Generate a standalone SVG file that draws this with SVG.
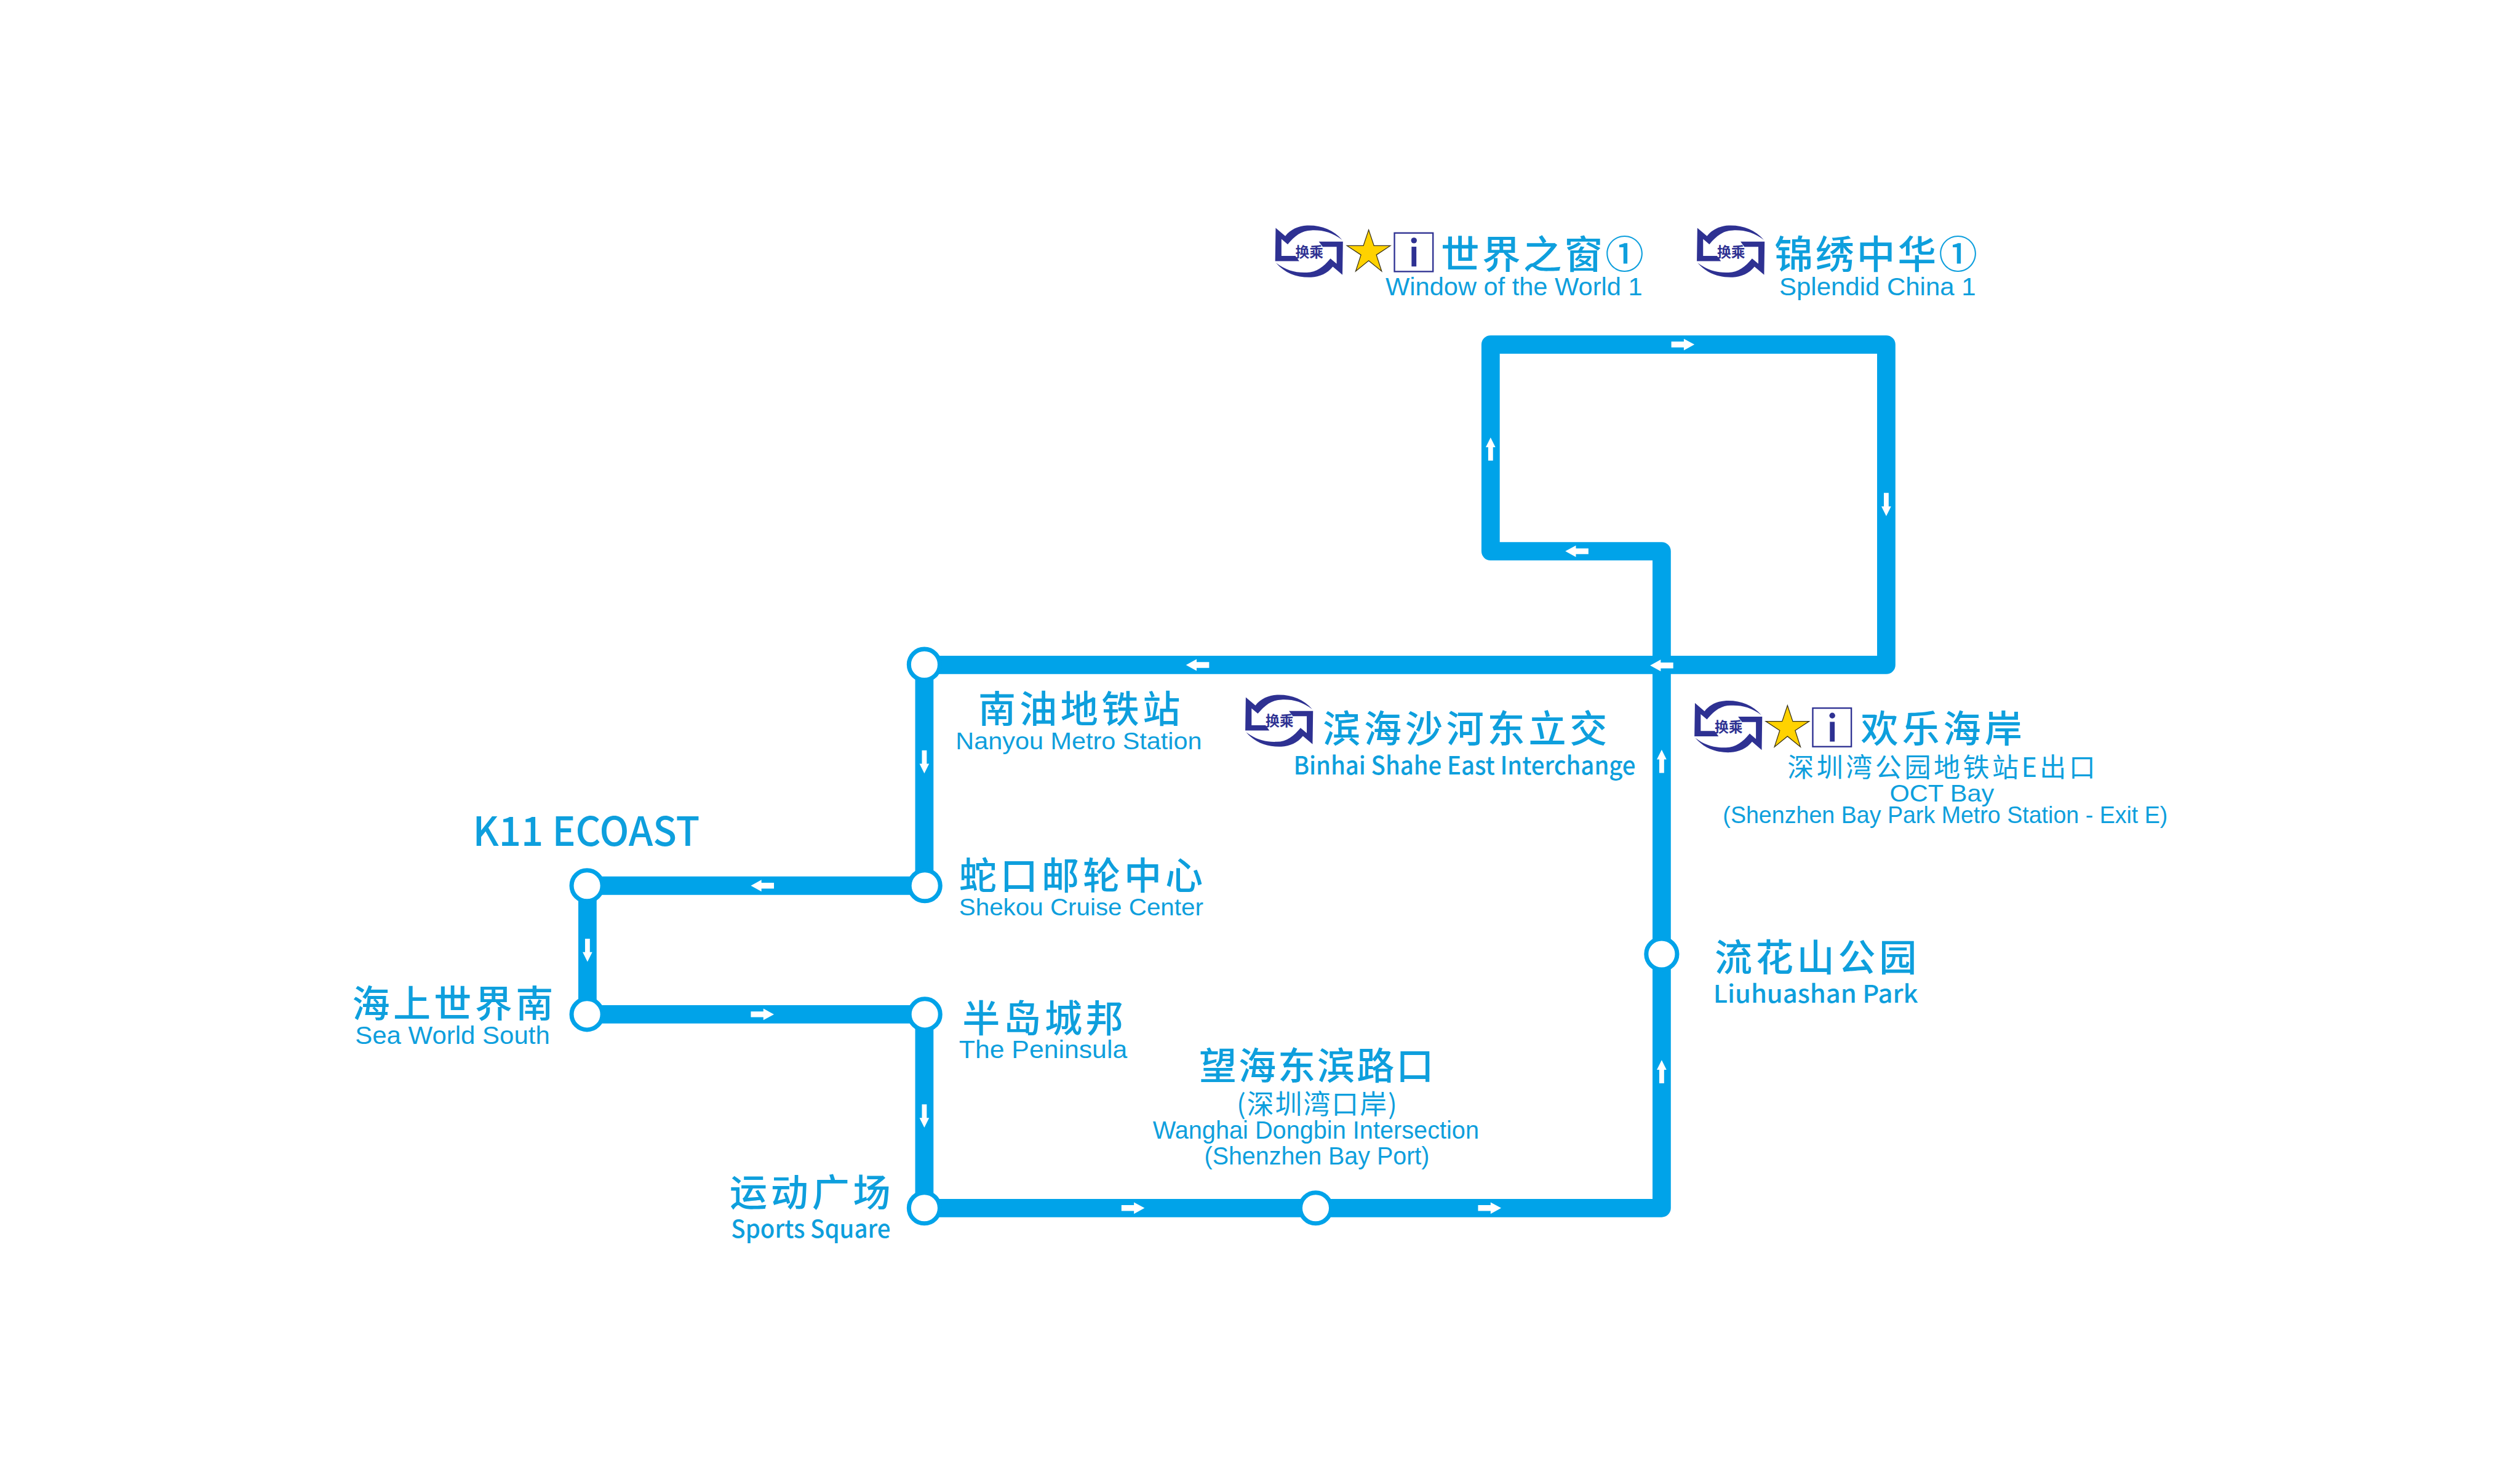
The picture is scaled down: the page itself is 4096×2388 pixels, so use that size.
<svg xmlns="http://www.w3.org/2000/svg" xmlns:xlink="http://www.w3.org/1999/xlink" width="4096" height="2388" viewBox="0 0 4096 2388">
<style>
text{fill:#0e9fdd}
.zh{font-family:"Noto Sans CJK SC","Noto Sans",sans-serif;font-weight:500;font-size:78px}
.zs{font-family:"Noto Sans CJK SC","Noto Sans",sans-serif;font-size:55px}
.en{font-family:"Liberation Sans",Arial,sans-serif;font-size:52px}
.no{font-family:"Noto Sans CJK SC","Noto Sans",sans-serif;font-weight:500;font-size:51px}
.line{fill:none;stroke:#00a3e9;stroke-width:38;stroke-linejoin:round}
.stn{fill:#fff;stroke:#00a3e9;stroke-width:9}
.arr{fill:#fff}
.nv{fill:#2e3192}
.hc{font-family:"Noto Sans CJK SC",sans-serif;font-weight:700;font-size:29px;fill:#2e3192;text-anchor:middle}
.star{fill:#ffd200;stroke:#3a3216;stroke-width:1.6}
.box{fill:#fff;stroke:#2e3192;stroke-width:3}
</style>
<defs>
<polygon id="a" class="arr" points="-24,-6 2,-6 2,-12 24,0 2,12 2,6 -24,6"/>
<polygon id="av" class="arr" points="-24,-5 4,-5 4,-10 24,0 4,10 4,5 -24,5"/>
<path id="half" class="nv" d="M1,5 L21,22 C32,8 48,1 66,0 C95,-1 120,8 139,30 C118,14 98,9 75,10 C55,10 40,22 26,39 L13,28 L13,63 L42,63 L50,74 L0,74 Z"/>
<g id="hub">
<use xlink:href="#half"/>
<use xlink:href="#half" transform="rotate(180 70.3 53.7)"/>
<text class="hc" x="71" y="65">换乘</text>
</g>
<g id="star"><polygon class="star" points="45,0 56,33 90,33 61,52 72,86 45,64 18,86 29,52 0,33 34,33"/></g>
<g id="info">
<rect class="box" x="1.5" y="1.5" width="80" height="80"/>
<circle class="nv" cx="42" cy="17" r="6"/>
<rect class="nv" x="37" y="30" width="10" height="41"/>
</g>
</defs>
<rect width="4096" height="2388" fill="#fff"/>
<g transform="scale(0.78332)">
<g id="connectors">
<path class="line" d="M1918,2507 H3448 V1144 H3093 V715 H3914 V1380 H1918 V1838 H1219 V2105 H1918 Z"/>
<use xlink:href="#a" transform="translate(3492,715)"/>
<use xlink:href="#av" transform="translate(3093,932) rotate(-90)"/>
<use xlink:href="#av" transform="translate(3914,1047) rotate(90)"/>
<use xlink:href="#a" transform="translate(3272,1144) rotate(180)"/>
<use xlink:href="#a" transform="translate(3448,1381) rotate(180)"/>
<use xlink:href="#a" transform="translate(2485,1380) rotate(180)"/>
<use xlink:href="#av" transform="translate(1918,1581) rotate(90)"/>
<use xlink:href="#a" transform="translate(1582,1838) rotate(180)"/>
<use xlink:href="#av" transform="translate(1219,1972) rotate(90)"/>
<use xlink:href="#a" transform="translate(1582,2105)"/>
<use xlink:href="#av" transform="translate(1918,2316) rotate(90)"/>
<use xlink:href="#a" transform="translate(2351,2507)"/>
<use xlink:href="#a" transform="translate(3091,2507)"/>
<use xlink:href="#av" transform="translate(3448,2224) rotate(-90)"/>
<use xlink:href="#av" transform="translate(3448,1580) rotate(-90)"/>
</g>
<g id="node-window-of-the-world">
<use xlink:href="#hub" transform="translate(2646,468)"/>
<use xlink:href="#star" transform="translate(2795,477)"/>
<use xlink:href="#info" transform="translate(2892,482)"/>
<text class="zh" style="font-size:80px" x="2990" y="557" textLength="421">世界之窗①</text>
<text class="en" x="2875" y="613" textLength="533" lengthAdjust="spacingAndGlyphs">Window of the World 1</text>
</g>
<g id="node-splendid-china">
<use xlink:href="#hub" transform="translate(3521,468)"/>
<text class="zh" style="font-size:80px" x="3682" y="557" textLength="421">锦绣中华①</text>
<text class="en" x="3692" y="613" textLength="408" lengthAdjust="spacingAndGlyphs">Splendid China 1</text>
</g>
<g id="node-binhai-shahe">
<use xlink:href="#hub" transform="translate(2584,1442)"/>
<text class="zh" x="2745" y="1541" textLength="590">滨海沙河东立交</text>
<text class="no" style="font-size:52px" x="2684" y="1607" textLength="710" lengthAdjust="spacingAndGlyphs">Binhai Shahe East Interchange</text>
</g>
<g id="node-oct-bay">
<use xlink:href="#hub" transform="translate(3516,1454)"/>
<use xlink:href="#star" transform="translate(3664,1464)"/>
<use xlink:href="#info" transform="translate(3760,1468)"/>
<text class="zh" x="3861" y="1541" textLength="335">欢乐海岸</text>
<text class="zs" x="3709" y="1613" textLength="639">深圳湾公园地铁站E出口</text>
<text class="en" style="font-size:50px" x="3921" y="1663" textLength="217" lengthAdjust="spacingAndGlyphs">OCT Bay</text>
<text class="en" style="font-size:50px" x="3575" y="1708" textLength="923" lengthAdjust="spacingAndGlyphs">(Shenzhen Bay Park Metro Station - Exit E)</text>
</g>
<g id="node-nanyou">
<circle class="stn" cx="1918" cy="1379" r="32"/>
<text class="zh" x="2030" y="1500" textLength="419">南油地铁站</text>
<text class="en" style="font-size:49px" x="1983" y="1555" textLength="511" lengthAdjust="spacingAndGlyphs">Nanyou Metro Station</text>
</g>
<g id="node-shekou">
<circle class="stn" cx="1919" cy="1838" r="32"/>
<text class="zh" x="1990" y="1846" textLength="506">蛇口邮轮中心</text>
<text class="en" style="font-size:49px" x="1990" y="1900" textLength="507" lengthAdjust="spacingAndGlyphs">Shekou Cruise Center</text>
</g>
<g id="node-k11">
<circle class="stn" cx="1218" cy="1838" r="32"/>
<text class="no" style="font-size:84px" x="981" y="1755" textLength="471" lengthAdjust="spacingAndGlyphs">K11 ECOAST</text>
</g>
<g id="node-sea-world-south">
<circle class="stn" cx="1218" cy="2105" r="32"/>
<text class="zh" x="731" y="2112" textLength="417">海上世界南</text>
<text class="en" x="737" y="2167" textLength="404" lengthAdjust="spacingAndGlyphs">Sea World South</text>
</g>
<g id="node-peninsula">
<circle class="stn" cx="1919" cy="2105" r="32"/>
<text class="zh" x="1997" y="2142" textLength="334">半岛城邦</text>
<text class="en" x="1990" y="2196" textLength="349" lengthAdjust="spacingAndGlyphs">The Peninsula</text>
</g>
<g id="node-sports-square">
<circle class="stn" cx="1918" cy="2507" r="32"/>
<text class="zh" x="1514" y="2504" textLength="334">运动广场</text>
<text class="no" x="1517" y="2569" textLength="331" lengthAdjust="spacingAndGlyphs">Sports Square</text>
</g>
<g id="node-wanghai">
<circle class="stn" cx="2730" cy="2507" r="32"/>
<text class="zh" x="2488" y="2240" textLength="487">望海东滨路口</text>
<text class="zs" style="font-size:56px" x="2566" y="2312" textLength="333">(深圳湾口岸)</text>
<text class="en" x="2392" y="2363" textLength="677" lengthAdjust="spacingAndGlyphs">Wanghai Dongbin Intersection</text>
<text class="en" x="2499" y="2417" textLength="467" lengthAdjust="spacingAndGlyphs">(Shenzhen Bay Port)</text>
</g>
<g id="node-liuhuashan">
<circle class="stn" cx="3448" cy="1980" r="32"/>
<text class="zh" x="3558" y="2016" textLength="419">流花山公园</text>
<text class="no" x="3555" y="2081" textLength="425" lengthAdjust="spacingAndGlyphs">Liuhuashan Park</text>
</g>
</g>
</svg>
